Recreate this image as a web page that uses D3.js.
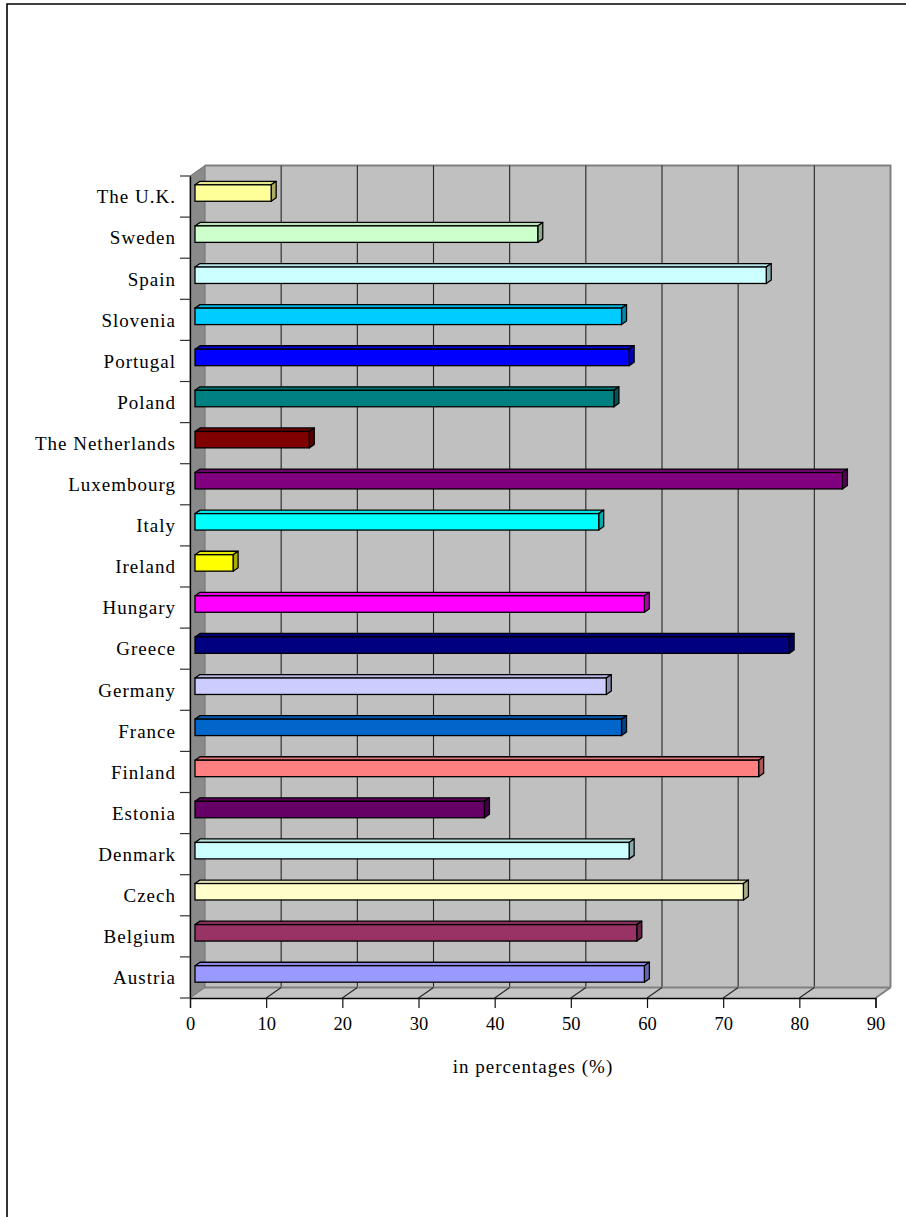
<!DOCTYPE html>
<html>
<head>
<meta charset="utf-8">
<script src="https://cdn.jsdelivr.net/npm/d3@7"></script>
<style>
  html, body { margin: 0; padding: 0; background: #ffffff; }
  svg { display: block; }
  text { font-family: "Liberation Serif", "Times New Roman", serif; fill: #000; }
</style>
</head>
<body>
<svg id="chart" width="906" height="1217"></svg>
<script>
// Countries, listed bottom-to-top as in the source sheet
const countries = ["Austria", "Belgium", "Czech", "Denmark", "Estonia", "Finland", "France",
  "Germany", "Greece", "Hungary", "Ireland", "Italy", "Luxembourg", "The Netherlands",
  "Poland", "Portugal", "Slovenia", "Spain", "Sweden", "The U.K."];
// Share in percentages (%)
const shares = [59, 58, 72, 57, 38, 74, 56, 54, 78, 59, 5, 53, 85, 15, 55, 57, 56, 75, 45, 10];
const barColors = ["#9999FF", "#993366", "#FFFFCC", "#CCFFFF", "#660066", "#FF8080", "#0066CC",
  "#CCCCFF", "#000080", "#FF00FF", "#FFFF00", "#00FFFF", "#800080", "#800000",
  "#008080", "#0000FF", "#00CCFF", "#CCFFFF", "#CCFFCC", "#FFFF99"];
const xTicks = [0, 10, 20, 30, 40, 50, 60, 70, 80, 90];
const xTitle = "in percentages (%)";

const svg = d3.select("#chart");

// page frame
svg.append("path")
  .attr("d", "M7,1217 L7,4 L906,4")
  .attr("fill", "none").attr("stroke", "#000").attr("stroke-width", 1.6);

// 3D projection of the plot box: depth offset
const DX = 15, DY = -10.5;
const x = d3.scaleLinear().domain([0, 90]).range([190, 875.5]);
const y = d3.scaleBand().domain(countries.slice().reverse()).range([176, 998])
  .paddingInner(0.6).paddingOuter(0.3);
const yTop = 176, yBot = 998;

const g = svg.append("g");

// back wall
g.append("rect")
  .attr("x", x(0) + DX).attr("y", yTop + DY)
  .attr("width", x(90) - x(0)).attr("height", yBot - yTop)
  .attr("fill", "#c0c0c0");
g.append("path")
  .attr("d", `M${x(0) + DX},${yTop + DY} L${x(90) + DX},${yTop + DY} L${x(90) + DX},${yBot + DY}`)
  .attr("fill", "none").attr("stroke", "#808080").attr("stroke-width", 2);

// vertical gridlines on the back wall
const inner = xTicks.filter(t => t > 0 && t < 90);
g.selectAll("line.grid").data(inner).join("line")
  .attr("class", "grid")
  .attr("x1", d => x(d) + DX).attr("x2", d => x(d) + DX)
  .attr("y1", yTop + DY).attr("y2", yBot + DY)
  .attr("stroke", "#262626").attr("stroke-width", 1.1);

// floor
g.append("path")
  .attr("d", `M${x(0)},${yBot} L${x(90)},${yBot} L${x(90) + DX},${yBot + DY} L${x(0) + DX},${yBot + DY} Z`)
  .attr("fill", "#c4c4c4");
g.append("line")
  .attr("x1", x(0) + DX).attr("x2", x(90) + DX)
  .attr("y1", yBot + DY).attr("y2", yBot + DY)
  .attr("stroke", "#808080").attr("stroke-width", 2);
g.append("line")
  .attr("x1", x(90)).attr("x2", x(90) + DX)
  .attr("y1", yBot).attr("y2", yBot + DY)
  .attr("stroke", "#808080").attr("stroke-width", 2);
g.selectAll("line.floorgrid").data(inner).join("line")
  .attr("class", "floorgrid")
  .attr("x1", d => x(d)).attr("x2", d => x(d) + DX)
  .attr("y1", yBot).attr("y2", yBot + DY)
  .attr("stroke", "#262626").attr("stroke-width", 1.1);

// left side wall
g.append("path")
  .attr("d", `M${x(0)},${yTop} L${x(0) + DX},${yTop + DY} L${x(0) + DX},${yBot + DY} L${x(0)},${yBot} Z`)
  .attr("fill", "#8a8a8a").attr("stroke", "#707070").attr("stroke-width", 1);

// bars: front face, top face and end face
const F = 1 / 3, B = 2 / 3;   // bar sits between 1/3 and 2/3 of the depth
const bars = g.append("g").selectAll("g.bar")
  .data(countries.map((c, i) => ({ c, v: shares[i], col: barColors[i] })))
  .join("g").attr("class", "bar");

bars.each(function (d) {
  const s = d3.select(this);
  const x0 = x(0) + DX * F, x1 = x(d.v) + DX * F;
  const y0 = y(d.c) + DY * F, y1 = y(d.c) + y.bandwidth() + DY * F;
  const ox = DX * (B - F), oy = DY * (B - F);
  const base = d3.color(d.col);
  const topCol = base.darker(0.3);
  const sideCol = base.darker(1.1);
  s.append("path")
    .attr("d", `M${x0},${y0} L${x1},${y0} L${x1 + ox},${y0 + oy} L${x0 + ox},${y0 + oy} Z`)
    .attr("fill", topCol).attr("stroke", "#000").attr("stroke-width", 1.3).attr("stroke-linejoin", "round");
  s.append("path")
    .attr("d", `M${x1},${y0} L${x1 + ox},${y0 + oy} L${x1 + ox},${y1 + oy} L${x1},${y1} Z`)
    .attr("fill", sideCol).attr("stroke", "#000").attr("stroke-width", 1.3).attr("stroke-linejoin", "round");
  s.append("rect")
    .attr("x", x0).attr("y", y0).attr("width", x1 - x0).attr("height", y1 - y0)
    .attr("fill", d.col).attr("stroke", "#000").attr("stroke-width", 1.3);
});

// value axis along the front edge of the floor
const xAxis = d3.axisBottom(x).tickValues(xTicks).tickSize(10).tickPadding(6)
  .tickFormat(d3.format("d"));
const xa = svg.append("g").attr("transform", `translate(0,${yBot})`).call(xAxis);
xa.select(".domain").attr("stroke", "#000").attr("stroke-width", 1.3);
xa.selectAll(".tick line").attr("stroke", "#111").attr("stroke-width", 1.2);
xa.selectAll(".tick text")
  .attr("font-family", "Liberation Serif, Times New Roman, serif")
  .attr("font-size", 18.5).attr("fill", "#000").attr("dy", "0.86em");

// category axis on the left
const yAxis = d3.axisLeft(y).tickSize(0).tickPadding(14);
const ya = svg.append("g").attr("transform", `translate(${x(0)},0)`).call(yAxis);
ya.select(".domain").attr("stroke", "#000").attr("stroke-width", 1.3);
ya.selectAll(".tick text")
  .attr("font-family", "Liberation Serif, Times New Roman, serif")
  .attr("font-size", 19).attr("letter-spacing", 1).attr("fill", "#000")
  .attr("dy", "0.36em");

// tick marks between categories
const bounds = d3.range(countries.length + 1).map(i => yTop + i * y.step());
svg.append("g").selectAll("line").data(bounds).join("line")
  .attr("x1", x(0) - 10).attr("x2", x(0))
  .attr("y1", d => d).attr("y2", d => d)
  .attr("stroke", "#333").attr("stroke-width", 1.2);

// axis title
svg.append("text")
  .attr("x", 533).attr("y", 1073)
  .attr("text-anchor", "middle")
  .attr("font-size", 19).attr("letter-spacing", 1)
  .text(xTitle);
</script>
</body>
</html>
